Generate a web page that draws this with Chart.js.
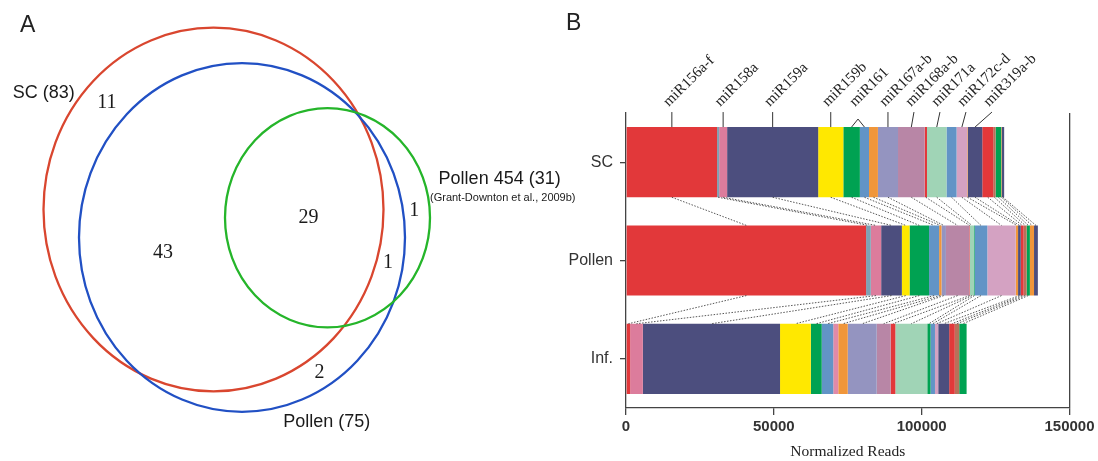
<!DOCTYPE html>
<html>
<head>
<meta charset="utf-8">
<script src="https://cdn.jsdelivr.net/npm/chart.js@4.4.0/dist/chart.umd.min.js"></script>
<style>
  html, body { margin: 0; padding: 0; background: #fff; }
  body { width: 1098px; height: 461px; position: relative; overflow: hidden; font-family: "Liberation Sans", Arial, sans-serif; }
  .panel { position: absolute; top: 0; height: 461px; }
  #vennBox { left: 0; width: 600px; }
  #barBox { left: 540px; width: 558px; }
  .tag { position: absolute; font-size: 23px; line-height: 26px; color: #222; }
</style>
</head>
<body>
<div class="panel" id="vennBox"><canvas id="venn"></canvas></div>
<div class="panel" id="barBox"><canvas id="bars"></canvas></div>
<div class="tag" style="left:20px;top:11px">A</div>
<div class="tag" style="left:566px;top:9px">B</div>
<script>
const SANS = '"Liberation Sans", Arial, sans-serif';
const SERIF = '"Liberation Serif", "Times New Roman", serif';

// ---- panel A: Venn sets (x units = px across, y units squeezed a bit)
const vennNames = ['SC (83)', 'Pollen (75)', 'Pollen 454 (31)'];
const vennColors = ['#d9462f', '#2150c4', '#25b52a'];
const vennCx = [213.5, 242, 327.5];
const vennCy = [195.9, 222.0, 203.6];
const vennR = [170, 163, 102.5];
const vennLabelX = [43.8, 326.8, 438.6];
const vennLabelY = [86.8, 395.0, 167.0];
const vennNote = '(Grant-Downton et al., 2009b)';
const regionCounts = ['11', '43', '29', '1', '1', '2'];
const regionX = [106.8, 163, 308.6, 414.3, 388, 319.6];
const regionY = [96.0, 236.5, 204.0, 196.8, 245.4, 348.1];

// ---- panel B: stacked normalized reads per miRNA family
const categories = ['SC', 'Pollen', 'Inf.'];
const segmentNames = ['miR156a-f', '', 'miR158a', 'miR159a', 'miR159b', 'miR161', 'miR161', '',
  '', 'miR167a-b', 'miR168a-b', '', 'miR171a', '', '', 'miR172c-d', '', 'miR319a-b',
  '', '', '', '', ''];
const segmentColors = ['#e2383a', '#7ea2b4', '#dc7c9c', '#4c4e7e', '#ffe800', '#00a252', '#6294c6', '#e08aa8',
  '#f0963a', '#9494c0', '#b886a6', '#e2383a', '#a0d4b6', '#00a252', '#6294c6', '#d4a2c2', '#f0963a', '#4c4e7e',
  '#e2383a', '#b8705a', '#00a252', '#f0963a', '#4c4e7e'];
const scReads = [30800, 700, 2700, 30800, 8500, 5600, 3100, 0, 3000, 6800, 9000, 800, 6600, 0, 3400, 3600,
  200, 4900, 3700, 800, 1900, 200, 800];
const pollenReads = [81200, 1600, 3500, 7000, 2600, 6600, 3400, 0, 800, 1500, 7900, 200, 1400, 200, 4300, 9600,
  800, 900, 1000, 1000, 1100, 1400, 1300];
const infReads = [1400, 0, 4300, 46400, 10400, 3700, 3900, 1700, 3200, 9800, 4700, 1600, 10800, 1100, 1500, 1100,
  0, 3700, 1900, 1500, 2500, 0, 0];
const xTicks = [0, 50000, 100000, 150000];

const vennDraw = {
  id: 'vennDraw',
  afterDatasetsDraw(chart) {
    const {ctx, scales: {x, y}} = chart;
    ctx.save();
    chart.data.datasets.forEach((ds, i) => {
      const el = chart.getDatasetMeta(i).data[0];
      const rx = Math.abs(x.getPixelForValue(vennCx[i] + vennR[i]) - el.x);
      const ry = Math.abs(y.getPixelForValue(vennCy[i] + vennR[i]) - el.y);
      ctx.beginPath();
      ctx.ellipse(el.x, el.y, rx, ry, 0, 0, Math.PI * 2);
      ctx.strokeStyle = vennColors[i];
      ctx.lineWidth = 2.3;
      ctx.stroke();
    });
    ctx.fillStyle = '#1a1a1a';
    ctx.textBaseline = 'middle';
    ctx.font = '20px ' + SERIF;
    ctx.textAlign = 'center';
    regionCounts.forEach((t, i) => ctx.fillText(t, x.getPixelForValue(regionX[i]), y.getPixelForValue(regionY[i])));
    ctx.font = '18px ' + SANS;
    vennNames.forEach((t, i) => {
      ctx.textAlign = i === 2 ? 'left' : 'center';
      ctx.fillText(t, x.getPixelForValue(vennLabelX[i]), y.getPixelForValue(vennLabelY[i]));
    });
    ctx.font = '11px ' + SANS;
    ctx.textAlign = 'left';
    ctx.fillText(vennNote, x.getPixelForValue(430), y.getPixelForValue(185.1));
    ctx.restore();
  }
};

new Chart(document.getElementById('venn'), {
  type: 'scatter',
  data: {
    datasets: vennNames.map((n, i) => ({
      label: n,
      data: [{x: vennCx[i], y: vennCy[i]}],
      pointRadius: 0
    }))
  },
  options: {
    responsive: true,
    maintainAspectRatio: false,
    animation: false,
    events: [],
    layout: {padding: 0},
    plugins: {legend: {display: false}, tooltip: {enabled: false}},
    scales: {
      x: {type: 'linear', min: 0, max: 600, display: false},
      y: {type: 'linear', min: 0, max: 431, reverse: true, display: false}
    }
  },
  plugins: [vennDraw]
});

const barMarks = {
  id: 'barMarks',
  afterDatasetsDraw(chart) {
    const {ctx} = chart;
    const metas = chart.data.datasets.map((d, i) => chart.getDatasetMeta(i));
    ctx.save();
    // dotted links between same family in neighbouring bars
    ctx.strokeStyle = '#444';
    ctx.lineWidth = 0.9;
    ctx.setLineDash([1.5, 1.5]);
    metas.forEach((meta, i) => {
      const vals = chart.data.datasets[i].data;
      for (let k = 0; k < categories.length - 1; k++) {
        if (!vals[k] || !vals[k + 1]) continue;
        const a = meta.data[k], b = meta.data[k + 1];
        ctx.beginPath();
        ctx.moveTo((a.x + a.base) / 2, a.y + a.height / 2);
        ctx.lineTo((b.x + b.base) / 2, b.y - b.height / 2);
        ctx.stroke();
      }
    });
    // leader lines + family names above SC bar
    ctx.setLineDash([]);
    ctx.strokeStyle = '#333';
    ctx.lineWidth = 1;
    ctx.fillStyle = '#222';
    ctx.font = '15px ' + SERIF;
    ctx.textAlign = 'left';
    ctx.textBaseline = 'alphabetic';
    const groups = [];
    segmentNames.forEach((n, i) => {
      if (!n) return;
      let g = groups.find(o => o.name === n);
      if (!g) { g = {name: n, idx: []}; groups.push(g); }
      g.idx.push(i);
    });
    let prev = -Infinity;
    groups.forEach(g => {
      const els = g.idx.map(i => metas[i].data[0]);
      const top = els[0].y - els[0].height / 2;
      const mids = els.map(e => (e.x + e.base) / 2);
      let lx = mids.reduce((s, v) => s + v, 0) / mids.length;
      lx = Math.max(lx, prev + 26);
      prev = lx;
      const ly = top - (mids.length > 1 ? 8 : 15);
      mids.forEach(m => {
        ctx.beginPath();
        ctx.moveTo(m, top);
        ctx.lineTo(lx, ly);
        ctx.stroke();
      });
      ctx.save();
      ctx.translate(lx - 3, top - 20);
      ctx.rotate(-Math.PI / 4);
      ctx.fillText(g.name, 0, 0);
      ctx.restore();
    });
    ctx.restore();
  }
};

new Chart(document.getElementById('bars'), {
  type: 'bar',
  data: {
    labels: categories,
    datasets: segmentNames.map((n, i) => ({
      label: n || ('family ' + (i + 1)),
      data: [scReads[i], pollenReads[i], infReads[i]],
      backgroundColor: segmentColors[i],
      borderWidth: 0,
      barPercentage: 0.714,
      categoryPercentage: 1
    }))
  },
  options: {
    indexAxis: 'y',
    responsive: true,
    maintainAspectRatio: false,
    animation: false,
    events: [],
    layout: {padding: {top: 113, right: 28.5, left: 0, bottom: 0}},
    plugins: {legend: {display: false}, tooltip: {enabled: false}},
    scales: {
      x: {
        stacked: true,
        min: xTicks[0],
        max: xTicks[xTicks.length - 1],
        afterBuildTicks: s => { s.ticks = xTicks.map(v => ({value: v})); },
        ticks: {
          color: '#333',
          padding: 3,
          maxRotation: 0,
          font: {family: SANS, size: 15, weight: 'bold'},
          callback: v => String(v)
        },
        grid: {
          color: c => (c.tick && c.tick.value === 150000 ? '#444' : 'rgba(0,0,0,0)'),
          tickColor: '#444',
          tickLength: 7,
          lineWidth: 1.3
        },
        border: {color: '#444', width: 1.3},
        title: {
          display: true,
          text: 'Normalized Reads',
          color: '#222',
          font: {family: SERIF, size: 15.5},
          padding: {top: 2, bottom: 0}
        },
        afterFit: s => { s.height = 53; }
      },
      y: {
        stacked: true,
        ticks: {color: '#333', padding: 7, font: {family: SANS, size: 16}},
        grid: {offset: false, drawOnChartArea: false, tickLength: 6, color: '#444', lineWidth: 1.3},
        border: {color: '#444', width: 1.3},
        afterFit: s => { s.width = 86; }
      }
    }
  },
  plugins: [barMarks]
});
</script>
</body>
</html>
